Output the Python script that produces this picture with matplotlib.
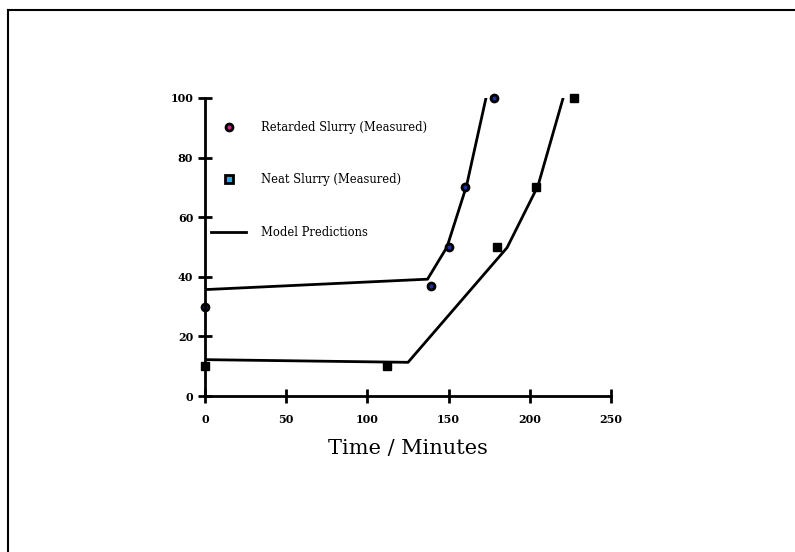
import matplotlib
matplotlib.use("Agg")
import matplotlib.pyplot as plt
from matplotlib.lines import Line2D

plt.rcParams['font.family'] = ['DejaVu Serif']

# measured points
ret_t = [0, 139, 150, 160, 178]
ret_v = [30, 37, 50, 70, 100]
neat_t = [0, 112, 180, 204, 227]
neat_v = [10, 10, 50, 70, 100]

# model predictions
ret_model_t = [0, 137, 149, 161, 173]
ret_model_v = [35.7, 39.2, 50, 70.5, 100]
neat_model_t = [0, 125, 186, 205, 220.5]
neat_model_v = [12.2, 11.3, 49.8, 70.5, 100]

xticks = [0, 50, 100, 150, 200, 250]
yticks = [0, 20, 40, 60, 80, 100]

fig = plt.figure(figsize=(7.95, 5.52), dpi=100)
ax = fig.add_axes([0.2579, 0.2826, 0.5107, 0.5399])

ax.plot(ret_model_t, ret_model_v, color='black', lw=2, label='Model Predictions', zorder=2)
ax.plot(neat_model_t, neat_model_v, color='black', lw=2, zorder=2)
ax.plot(ret_t, ret_v, 'o', ms=5, mfc='#2030a0', mec='black', mew=2,
        label='Retarded Slurry (Measured)', zorder=3, clip_on=False)
ax.plot(neat_t, neat_v, 's', ms=5.5, mfc='black', mec='black', mew=1,
        label='Neat Slurry (Measured)', zorder=3, clip_on=False)

ax.set_xlim(0, 250)
ax.set_ylim(0, 100)
ax.set_xticks(xticks)
ax.set_yticks(yticks)
for s in ['top', 'right']:
    ax.spines[s].set_visible(False)
for s in ['left', 'bottom']:
    ax.spines[s].set_linewidth(2)
    ax.spines[s].set_zorder(4)
ax.tick_params(direction='inout', length=10, width=2, labelsize=8)
ax.tick_params(axis='x', pad=8)
for lab in ax.get_xticklabels() + ax.get_yticklabels():
    lab.set_fontweight('bold')
ax.set_xlabel('Time / Minutes', fontsize=15, labelpad=10)

h, l = ax.get_legend_handles_labels()
leg_handles = [
    Line2D([], [], marker='o', ls='none', ms=5, mfc='#d0208a', mec='black', mew=2),
    Line2D([], [], marker='s', ls='none', ms=5.5, mfc='#20b0e0', mec='black', mew=2),
    Line2D([], [], color='black', lw=2),
]
ax.legend(leg_handles, [l[1], l[2], l[0]], loc='upper left',
          bbox_to_anchor=(-0.01, 0.958), frameon=False, fontsize=8.3,
          labelspacing=3.42, handlelength=3.0, handletextpad=1.3)

# page frame (top and left edges)
fig.add_artist(Line2D([7.5 / 795, 7.5 / 795], [0, 1 - 10 / 552], color='black', lw=1.5))
fig.add_artist(Line2D([7.5 / 795, 1], [1 - 10 / 552, 1 - 10 / 552], color='black', lw=1.5))

fig.savefig('out.png', dpi=100)
